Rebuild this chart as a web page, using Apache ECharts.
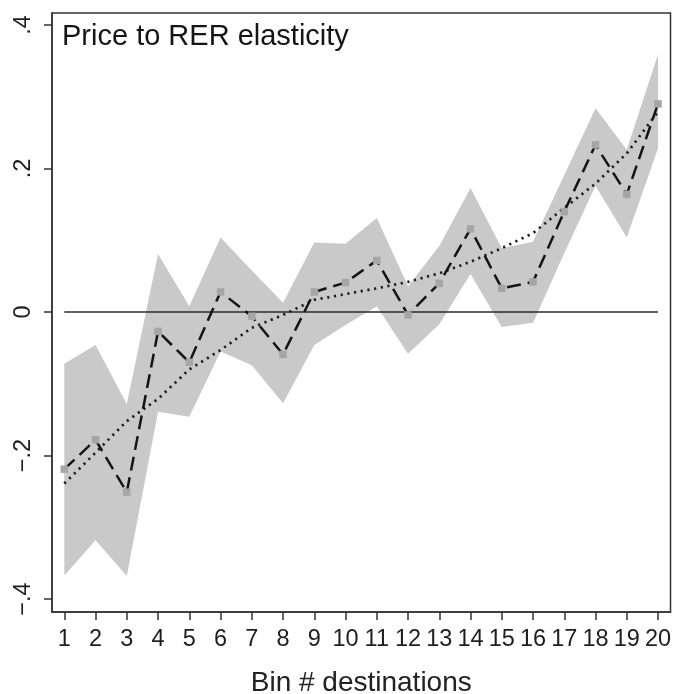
<!DOCTYPE html>
<html><head><meta charset="utf-8">
<script src="https://cdn.jsdelivr.net/npm/echarts@6/dist/echarts.min.js"></script>
<style>html,body{margin:0;padding:0;background:#fff}#c{width:679px;height:694px}</style>
</head><body><div id="c"></div>
<script>
const bins = [1,2,3,4,5,6,7,8,9,10,11,12,13,14,15,16,17,18,19,20];
const estimate = [-0.219,-0.178,-0.251,-0.027,-0.070,0.028,-0.006,-0.059,0.028,0.041,0.072,-0.004,0.040,0.116,0.033,0.042,0.140,0.233,0.164,0.290];
const ciUpper = [-0.072,-0.046,-0.128,0.081,0.008,0.104,0.058,0.013,0.097,0.095,0.131,0.036,0.092,0.173,0.089,0.098,0.191,0.284,0.226,0.359];
const ciLower = [-0.367,-0.318,-0.368,-0.139,-0.146,-0.055,-0.074,-0.127,-0.046,-0.018,0.008,-0.058,-0.017,0.053,-0.021,-0.015,0.082,0.176,0.104,0.228];
const trend = [-0.239,-0.196,-0.152,-0.121,-0.080,-0.053,-0.022,-0.004,0.017,0.025,0.033,0.042,0.054,0.070,0.089,0.110,0.145,0.179,0.221,0.279];
const yTicks = [-0.4,-0.2,0,0.2,0.4];
const yTickLabels = ['\u2212.4','\u2212.2','0','.2','.4'];
const titleText = 'Price to RER elasticity';
const xName = 'Bin # destinations';

const chart = echarts.init(document.getElementById('c'), null, {renderer:'canvas'});
const font = '"Liberation Sans", Arial, sans-serif';
chart.setOption({
  animation:false,
  backgroundColor:'#fff',
  title:{text:titleText,left:62,top:22,padding:0,textStyle:{fontFamily:font,fontSize:29,fontWeight:'normal',color:'#151515'}},
  grid:{left:52,right:8.5,top:13,bottom:82,show:true,containLabel:false,outerBoundsMode:'none',borderColor:'#333',borderWidth:1.5,backgroundColor:'transparent'},
  xAxis:{type:'value',min:0.606,max:20.4,
    name:xName,nameLocation:'middle',nameGap:57,
    nameTextStyle:{fontFamily:font,fontSize:28,color:'#222'},
    axisLine:{show:true,onZero:false,lineStyle:{color:'#333',width:1.5}},
    axisTick:{show:true,length:8,customValues:bins,lineStyle:{color:'#333',width:1.5}},
    axisLabel:{customValues:bins,margin:16,fontFamily:font,fontSize:23.5,color:'#1e1e1e'},
    splitLine:{show:false}},
  yAxis:{type:'value',min:-0.418,max:0.4167,
    axisLine:{show:true,onZero:false,lineStyle:{color:'#333',width:1.5}},
    axisTick:{show:true,length:8,customValues:yTicks,lineStyle:{color:'#333',width:1.5}},
    axisLabel:{customValues:yTicks,rotate:90,margin:16,fontFamily:font,fontSize:23.5,color:'#1e1e1e',
      formatter:function(v){const i=yTicks.findIndex(t=>Math.abs(t-v)<1e-9);return i>=0?yTickLabels[i]:'';}},
    splitLine:{show:false}},
  series:[
    {type:'custom',silent:true,z:1,
      data:bins.map((b,i)=>[b,ciLower[i],ciUpper[i]]),
      encode:{x:0,y:[1,2]},
      renderItem:function(params,api){
        if(params.dataIndex!==0) return null;
        const pts=[];
        for(let i=0;i<bins.length;i++) pts.push(api.coord([bins[i],ciUpper[i]]));
        for(let i=bins.length-1;i>=0;i--) pts.push(api.coord([bins[i],ciLower[i]]));
        return {type:'polygon',shape:{points:pts},style:{fill:'#c9c9c9'}};
      }},
    {type:'line',z:2,silent:true,symbol:'none',data:[[bins[0],0],[bins[bins.length-1],0]],
      lineStyle:{color:'#2a2a2a',width:1.6}},
    {type:'line',z:3,silent:true,symbol:'none',data:bins.map((b,i)=>[b,trend[i]]),
      lineStyle:{color:'#1e1e1e',width:2.7,type:[2.2,4.6]}},
    {type:'line',z:4,silent:true,symbol:'rect',symbolSize:7.5,data:bins.map((b,i)=>[b,estimate[i]]),
      itemStyle:{color:'#a6a6a6',borderWidth:0},
      lineStyle:{color:'#141414',width:2.5,type:[14,7]}}
  ]
});
</script></body></html>
